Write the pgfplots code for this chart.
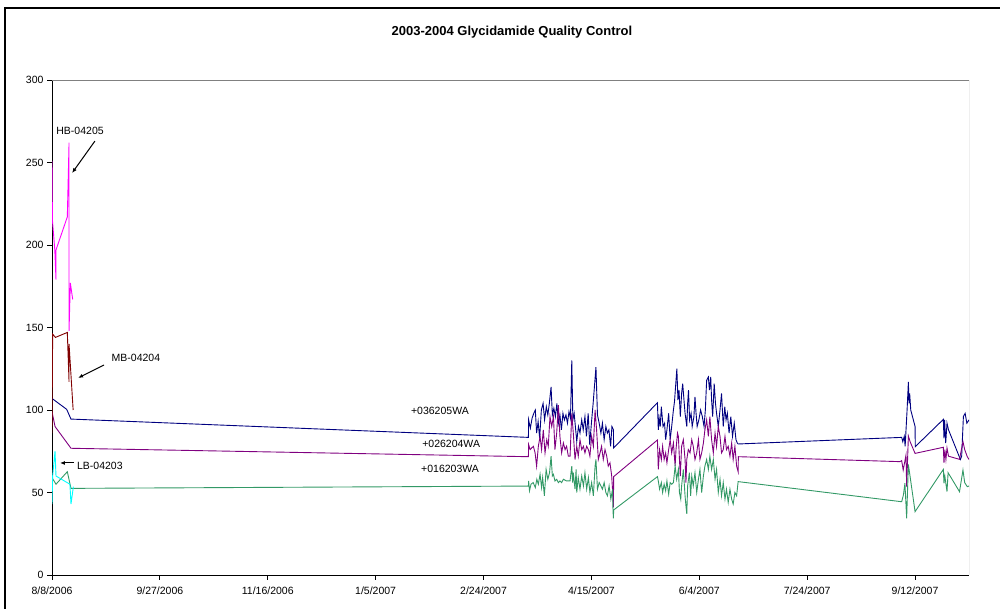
\documentclass[border=0pt]{standalone}
\usepackage{pgfplots}
\pgfplotsset{compat=1.18}
\usepackage{fontspec}
\setmainfont{Liberation Sans}
\usetikzlibrary{arrows.meta}
\definecolor{qcnavy}{HTML}{000080}
\definecolor{qcpurple}{HTML}{800080}
\definecolor{qcgreen}{HTML}{339966}
\definecolor{qcmagenta}{HTML}{FF00FF}
\definecolor{qcred}{HTML}{800000}
\definecolor{qccyan}{HTML}{00FFFF}
\begin{document}
\begin{tikzpicture}[x=1pt,y=1pt]
\useasboundingbox (0,0) rectangle (1000,609);
% chart area frame
\draw[line width=1.5pt] (5,0) -- (5,601) -- (1000,601);
\node[font=\bfseries\fontsize{13}{15}\selectfont] at (512,577) {2003-2004 Glycidamide Quality Control};
\begin{axis}[
    at={(52pt,34pt)}, anchor=south west,
    scale only axis, width=917pt, height=495pt,
    xmin=0, xmax=425, ymin=0, ymax=300,
    axis x line*=bottom, axis y line*=left,
    axis line style={black, line width=0.8pt, -},
    xtick={0,50,...,400},
    xticklabels={8/8/2006,9/27/2006,11/16/2006,1/5/2007,2/24/2007,4/15/2007,6/4/2007,7/24/2007,9/12/2007},
    ytick={0,50,...,300},
    tick align=outside, major tick length=5pt,
    tick style={black, line width=0.8pt},
    tick label style={font=\fontsize{10.5}{12}\selectfont},
    /pgf/number format/assume math mode=true,
    xticklabel style={yshift=-3pt},
    every axis plot/.append style={line width=0.9pt, mark=none},
]
% +036205WA
\addplot[qcnavy] coordinates {
(0,107)(6.8,100.4)(8.8,94.5)(220.8,83.4)
(220.9,94)(221.7,89)(222.5,95)(223.3,98)(224.0,100)(224.6,86)(225.3,93)(226.0,83)(226.8,100)(227.6,104)
(228.3,94)(229.1,102)(229.8,97)(230.5,104)(231.3,114)(231.9,97)(232.6,101)(233.3,96)(234.0,104)(234.7,92)
(235.4,97)(236.1,88)(236.8,98)(237.5,94)(238.2,97)(238.9,92)(239.6,99)(240.3,95)(240.9,130)(241.4,94)
(242.0,98)(243.2,81)(244.0,90)(244.7,86)(245.5,94)(246.2,88)(247.0,96)(247.7,84)(248.5,98)(249.2,79)
(250.0,92)(250.8,104)(252.1,126)(252.8,97)(253.6,92)(254.4,86)(255.1,92)(255.9,82)(256.7,90)(257.4,86)
(258.1,88)(258.9,78)(259.5,90)(260.2,88)(260.3,77)
(280.6,104.4)
(281.0,88)(281.4,95)(281.9,90)(282.4,102)(283.2,90)(283.9,92)(284.4,82)(285.0,88)(285.8,98)(286.5,82)
(287.2,90)(288.0,100)(288.5,105)(289.1,116)(289.6,125)(290.1,106)(290.6,112)(291.2,96)(291.8,110)(292.3,116)
(292.9,106)(293.4,98)(294.2,90)(294.6,104)(295.0,112)(295.5,94)(296.2,98)(296.7,90)(297.5,96)(298.0,108)
(298.5,98)(299.0,90)(299.8,94)(300.6,100)(301.4,96)(302.2,90)(302.8,100)(303.4,118)(304.2,120)(304.7,112)
(305.3,120)(305.7,106)(306.2,96)(306.9,116)(307.5,104)(308.0,98)(308.8,90)(309.6,100)(310.3,110)(311.1,90)
(311.8,102)(312.4,94)(313.0,98)(313.8,86)(314.6,96)(315.4,84)(316.2,92)(317.0,82)(317.6,80)(318.0,79.4)
(393.8,83.4)(394.3,80.8)(395.0,84)(395.4,78)(396.3,100)(396.9,117)(397.2,104)(397.5,110)(398.0,100)(400.0,90)
(400.1,77.8)(413.1,94.3)(413.4,82.8)(413.7,94)(414.2,80)(414.8,92)(415.5,88)(421.0,70)(421.6,72)(422.4,96)
(423.2,98)(424.0,92)(425.0,94)
};
% +026204WA
\addplot[qcpurple] coordinates {
(0,99)(1.4,90)(8.8,76.8)(220.8,71.7)
(220.9,79)(221.6,76)(222.3,77)(223.1,78)(223.9,74)(224.6,66)(225.4,78)(226.2,84)(226.9,76)(227.7,88)
(228.5,74)(229.3,82)(230.0,78)(230.8,96)(231.6,90)(232.4,96)(233.1,76)(233.9,86)(234.7,103)(235.4,84)
(236.2,74)(237.0,80)(237.8,76)(238.5,78)(239.3,72)(240.1,72)(240.9,98)(241.6,86)(242.4,70)(243.2,78)
(243.9,72)(244.7,82)(245.5,76)(246.3,78)(247.0,74)(247.8,78)(248.6,76)(249.3,72)(250.1,84)(250.9,78)
(251.7,100)(252.4,88)(253.2,70)(254.0,74)(254.7,78)(255.5,70)(256.3,76)(257.1,72)(257.8,66)(258.6,68)
(259.4,60)(260.0,47)(260.2,41)(260.3,59.6)
(280.6,81.8)
(281.0,64)(281.6,76)(282.4,70)(283.0,78)(283.7,70)(284.4,74)(285.0,68)(285.8,76)(286.5,82)(287.2,74)
(288.0,80)(288.8,66)(289.2,76)(289.9,86)(290.3,84)(290.8,70)(291.2,60)(291.8,78)(292.6,82)(293.4,70)
(293.8,56)(294.2,70)(294.9,76)(295.7,74)(296.5,82)(297.2,78)(298.0,70)(298.8,74)(299.6,82)(300.3,70)
(301.1,74)(301.9,80)(302.6,88)(303.4,94)(304.2,84)(304.9,96)(305.7,82)(306.5,74)(307.3,86)(308.0,78)
(308.8,90)(309.6,84)(310.3,74)(311.1,76)(311.9,84)(312.6,76)(313.4,78)(314.2,72)(315.0,80)(315.7,70)
(316.5,78)(317.3,66)(318.0,62.6)(318.1,71.7)
(393.0,68.7)(393.8,69.3)(394.5,63.6)(395.8,72.7)(396.1,53.5)(396.9,84.2)(397.7,80.8)(400.0,73.7)
(413.1,77.4)(413.4,68)(413.8,76)(414.3,70)(414.8,77)(415.5,72)(420.6,70.1)(422.2,80.8)(423.0,76)(424.2,71.7)(425.0,70)
};
% +016203WA
\addplot[qcgreen] coordinates {
(0,59)(1.85,55)(7.1,62.6)(8.8,52.5)(220.8,53.9)
(220.9,57)(221.3,51)(222.0,55)(223.0,56)(224.0,53)(224.7,58)(225.4,55)(226.2,61)(226.9,53)(227.4,59)
(228.2,48)(229.0,64)(229.8,58)(230.6,62)(231.3,72)(231.9,60)(232.4,61)(233.1,57)(233.9,58)(234.7,56)
(235.4,57)(236.2,56)(237.0,58)(238.5,57)(240.1,57)(240.9,66)(241.3,56)(241.6,62)(242.4,52)(242.9,64)
(243.2,50)(243.9,59)(244.7,52)(245.5,60)(246.3,54)(247.0,62)(247.8,52)(248.6,59)(249.3,50)(250.1,56)
(250.9,48)(251.7,66)(252.1,70)(252.8,52)(253.6,56)(254.4,54)(255.1,52)(255.9,56)(256.7,50)(257.4,48)
(258.2,54)(259.0,46)(259.8,52)(260.0,39)(260.2,34.4)(260.3,39.4)
(280.6,59.6)
(281.0,57)(281.6,52)(282.4,56)(283.0,50)(283.7,55)(284.4,51)(285.0,57)(285.8,49)(286.5,56)(287.2,55)
(288.0,56)(288.8,66)(289.5,58)(290.3,64)(290.8,50)(291.4,46)(291.8,54)(292.6,64)(293.4,48)(293.8,42)
(294.2,37)(294.6,54)(295.4,62)(296.0,48)(296.5,60)(297.2,54)(298.0,62)(298.8,50)(299.6,58)(300.3,64)
(301.1,50)(301.9,60)(302.6,66)(303.4,70)(304.2,64)(304.9,72)(305.7,64)(306.5,70)(307.3,58)(308.0,64)
(308.8,50)(309.6,58)(310.3,48)(311.1,56)(311.9,46)(312.6,52)(313.4,44)(314.2,52)(315.0,46)(315.7,43)
(316.5,50)(317.3,48)(318.0,56.6)
(393.8,44.4)(394.6,48.5)(395.3,55.6)(396.1,34.4)(396.9,67)(400.0,38.4)
(413.1,64)(413.4,55.5)(413.8,60)(414.8,50.5)(415.3,62)(420.6,50.5)(422.2,63.6)(423.0,56)(424.2,53.5)(425.0,54)
};
% LB-04203
\addplot[qccyan] coordinates {
(0,43)(0.3,60)(1.4,75)(1.85,60)(8.3,55)(8.8,43)(9.9,53.5)
};
% MB-04204
\addplot[qcred] coordinates {
(0,86)(0.3,146)(1.6,144)(7.1,147)(7.9,117)(7.9,140)(9.8,100)
};
% HB-04205
\addplot[qcmagenta] coordinates {
(0,251)(0.2,215)(1.3,197)(1.85,179)(1.85,197)(7.1,217)(7.9,262)(7.9,148)(8.5,177)(9.6,167)
};
% plot area frame, top and right
\draw[gray, line width=0.8pt] (rel axis cs:0,1) -- (rel axis cs:1,1) -- (rel axis cs:1,0);
% labels
\begin{scope}[font=\fontsize{10.5}{12}\selectfont]
\node at (axis cs:13,269) {HB-04205};
\draw[-{Latex[length=5pt,width=4pt]}, line width=1pt] (axis cs:19.9,263) -- (axis cs:9.3,243.6);
\node at (axis cs:38.9,131.5) {MB-04204};
\draw[-{Latex[length=5pt,width=4pt]}, line width=1pt] (axis cs:24.1,127.3) -- (axis cs:12.1,119.4);
\node at (axis cs:22.2,66) {LB-04203};
\draw[-{Latex[length=5pt,width=4pt]}, line width=1pt] (axis cs:10.2,67.9) -- (axis cs:3.7,67.9);
\node at (axis cs:179.8,99.4) {+036205WA};
\node at (axis cs:185,79.4) {+026204WA};
\node at (axis cs:184.5,64.2) {+016203WA};
\end{scope}
\end{axis}
\end{tikzpicture}
\end{document}
